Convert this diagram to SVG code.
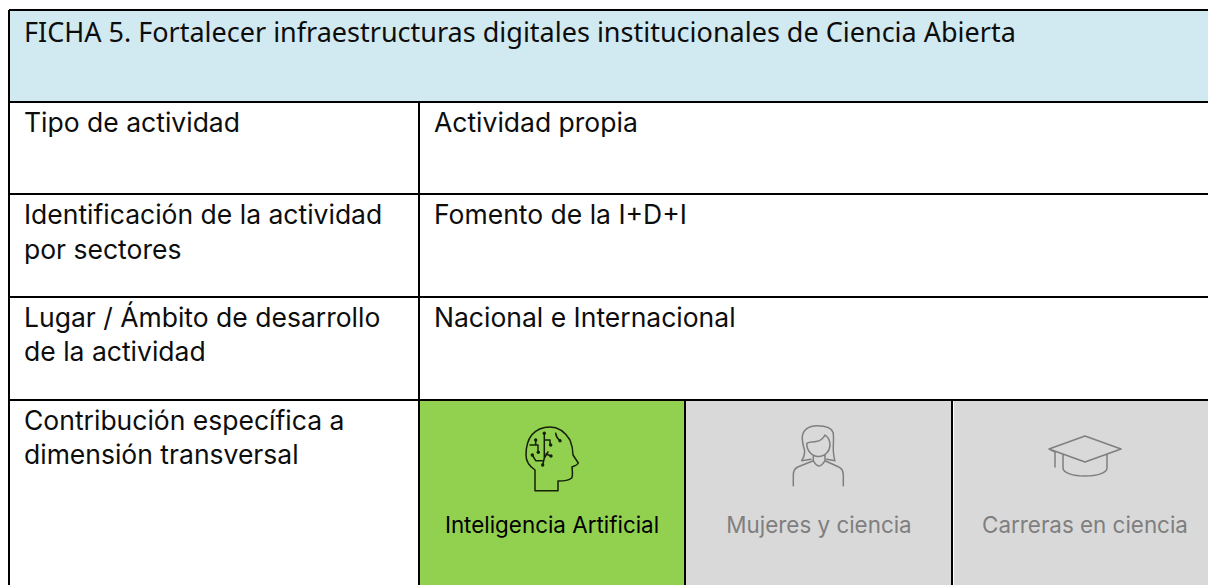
<svg xmlns="http://www.w3.org/2000/svg" width="1208" height="585" viewBox="0 0 1208 585">
<style>
.t{font-family:"Noto Sans","Open Sans",sans-serif;font-size:27px;fill:#0d0d0d}
.b{font-family:"Inter","Noto Sans",sans-serif;font-size:26.5px;fill:#0d0d0d}
.c{font-family:"Inter","Noto Sans",sans-serif;font-size:22.4px;text-anchor:middle}
.l{stroke:#000;stroke-width:2;fill:none}
.i{fill:none;stroke-width:1.5;stroke-linecap:round;stroke-linejoin:round}
</style>
<rect width="1208" height="585" fill="#fff"/>
<g id="header"><rect x="9" y="10" width="1199" height="92" fill="#d1e9f1"/><text class="t" x="24" y="42">FICHA 5. Fortalecer infraestructuras digitales institucionales de Ciencia Abierta</text></g>
<g id="row1"><text class="b" x="24" y="131.500">Tipo de actividad</text><text class="b" x="434" y="131.500">Actividad propia</text></g>
<g id="row2"><text class="b" x="24" y="223.500">Identificación de la actividad</text><text class="b" x="24" y="259">por sectores</text><text class="b" x="434" y="223.500">Fomento de la I+D+I</text></g>
<g id="row3"><text class="b" x="24" y="327">Lugar / Ámbito de desarrollo</text><text class="b" x="24" y="361">de la actividad</text><text class="b" x="434" y="327">Nacional e Internacional</text></g>
<g id="row4"><text class="b" x="24" y="430">Contribución específica a</text><text class="b" x="24" y="464">dimensión transversal</text></g>
<g id="ia"><rect x="419" y="400" width="266" height="185" fill="#92d050"/>
<g class="i" stroke="#142008"><path d="M535 490.700V470C529 466 526 461 526 455C526 447 527 441 531.700 435C536 430 543 427 550 427C558 427 565 432 570 440C572 445 573 450 573 455L578.300 463C577 466 574 466 572 467C572.500 472 573 476 571.700 478C568 481 563 481 558 481V490.700Z"/>
<path d="M544.300 433.300V458L542.700 465M544.300 440H550V445M546 454L551 456M542.700 460.700H535.700L532.300 455M535.700 440V445H530M535.700 445H538V452.300M555.700 433.300C556 436 558 439 560 440.700M544.300 458L548 452"/></g>
<g fill="#142008"><circle cx="544.300" cy="433.300" r="1.700"/><circle cx="550.700" cy="445" r="1.700"/><circle cx="551" cy="456" r="1.700"/><circle cx="542.700" cy="465" r="1.700"/><circle cx="532.300" cy="455" r="1.700"/><circle cx="535.700" cy="440" r="1.700"/><circle cx="538.300" cy="452.300" r="1.700"/><circle cx="560" cy="440.700" r="1.700"/></g>
<text class="c" x="552" y="532.500" fill="#000">Inteligencia Artificial</text></g>
<g id="mujeres"><rect x="686" y="400" width="267" height="185" fill="#d9d9d9"/>
<path class="i" stroke="#7f7f7f" d="M793.300 485.700V475C793.300 471 795 468 798.300 466.700L813.300 460.700C815 464 817 466 819 466C821 466 823 464 825 460.700L838.300 466.700C841.500 468 843.300 471 843.300 475V485.700M806.700 443.300C806.700 451 812 456.500 818.300 456.500C825 456.500 830 451 830 445C830 441 828 437 825 435C823 439 820 441 816 441.500C812 442 809 442 806.700 443.300ZM813.300 456V460.700M825 455V460.700M811 459.300L801.700 460.700C804 457 805 454 804.500 450C803 445 802 441 802.300 436.700C803 430 809 425.700 816.700 425.700C825 425.700 832 428 833.300 433.300C834 440 833 445 833.300 450C833.500 454 834 458 835 460.700L826.700 459.300"/>
<text class="c" x="819" y="532.500" fill="#7f7f7f">Mujeres y ciencia</text></g>
<g id="carreras"><rect x="954" y="400" width="254" height="185" fill="#d9d9d9"/>
<path class="i" stroke="#7f7f7f" d="M1049 449L1085 436L1121 449L1085 462ZM1063 454V468C1063 473 1073 476 1085 476C1097 476 1107 473 1107 468V454M1049 449L1055 452V467"/>
<text class="c" x="1085" y="532.500" fill="#7f7f7f">Carreras en ciencia</text></g>
<g id="grid"><path class="l" d="M9 10H1208M9 102H1208M9 194H1208M9 297H1208M9 400H1208M9 10V585M419 102V585M685 400V585M952 400V585"/></g>
</svg>
